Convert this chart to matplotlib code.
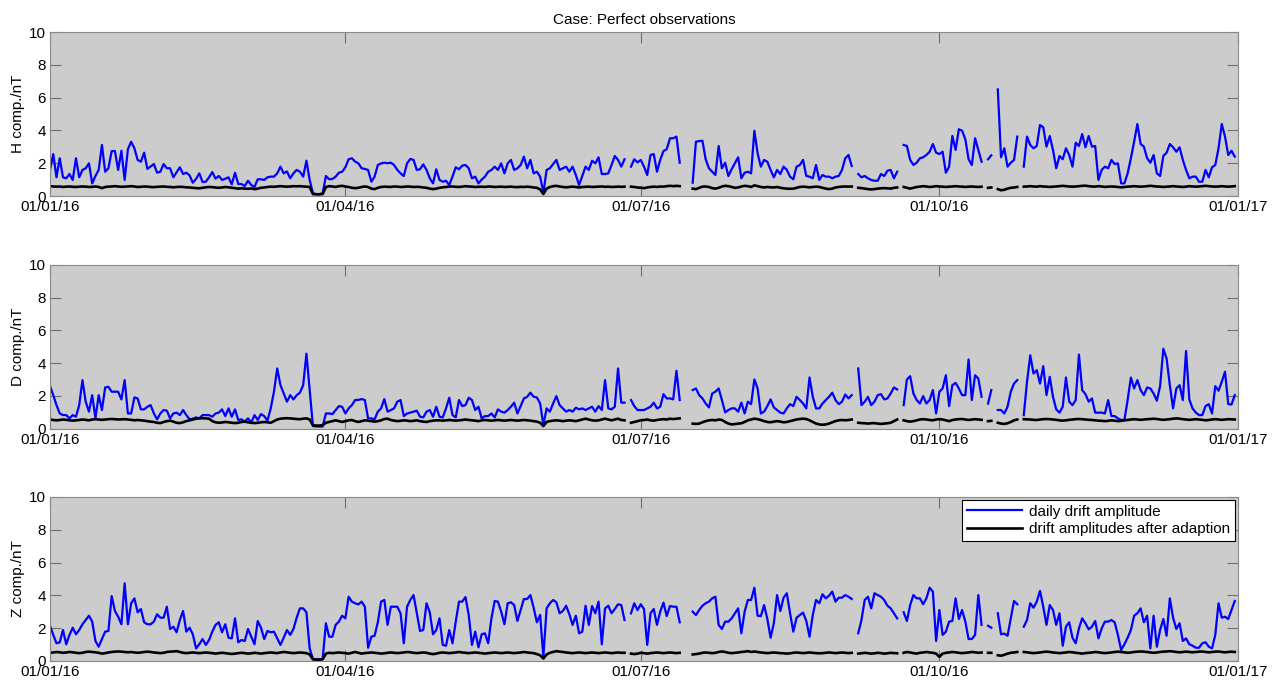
import numpy as np
import pandas as pd
import matplotlib
matplotlib.use("Agg")
import matplotlib.pyplot as plt
import matplotlib.dates as mdates

plt.rcParams['font.family'] = ['Liberation Sans', 'DejaVu Sans']

nan = float('nan')
dates = pd.date_range('2016-01-01', periods=366, freq='D')

# ---------------- H component ----------------
h_daily = [
    1.59,2.56,1.14,2.30,1.14,1.08,1.34,0.98,2.30,1.14,
    1.59,1.69,1.99,0.77,1.22,1.59,3.11,1.48,1.69,2.74,
    2.74,1.59,2.76,0.98,2.85,3.31,2.91,2.20,2.09,2.64,
    1.65,1.80,1.95,1.42,1.48,1.95,1.69,1.69,1.14,1.44,
    1.75,1.34,1.42,1.26,0.81,1.04,1.38,0.85,0.87,1.14,
    1.46,1.06,1.22,0.98,1.05,1.14,0.71,1.42,0.73,0.73,
    0.61,0.93,0.67,0.55,1.02,1.02,0.98,1.14,1.18,1.18,
    1.38,1.79,1.38,1.50,1.08,1.38,1.59,1.48,1.18,2.15,
    0.98,0.16,0.12,0.12,0.16,1.22,1.02,1.04,1.18,1.42,
    1.48,1.75,2.24,2.30,
    2.10,1.99,1.69,1.65,1.59,0.87,1.18,1.89,1.99,2.03,2.00,
    2.03,1.89,1.59,1.38,1.22,1.99,2.26,2.20,1.59,1.63,1.93,1.59,1.08,0.77,
    1.63,0.98,0.87,0.93,0.67,1.18,1.75,1.63,1.85,1.89,1.69,1.08,1.18,0.77,1.00,
    1.18,1.48,1.59,1.79,1.59,1.99,1.38,1.99,2.20,1.59,1.69,1.89,2.40,1.69,2.20,
    1.38,1.48,1.18,0.20,1.59,1.69,1.95,2.20,1.59,1.69,1.79,1.48,1.79,1.28,0.67,
    1.22,1.79,1.59,2.15,1.99,2.36,1.34,1.34,1.38,1.89,2.44,2.20,1.79,2.24,
    nan,
    1.79,2.24,2.05,2.20,1.79,1.28,2.50,2.56,1.48,2.20,2.74,2.85,3.52,3.52,3.62,2.03,
    nan, nan, nan,
    0.81,3.31,3.35,3.37,2.24,1.69,1.48,1.28,3.05,1.69,
    2.03,1.22,1.63,1.99,2.36,1.08,1.42,1.48,1.38,3.98,
    2.60,1.79,2.20,2.09,1.59,1.14,1.59,1.34,1.79,1.59,
    1.18,1.02,1.79,1.89,2.20,1.22,1.18,1.08,1.89,0.98,
    1.28,1.18,1.18,1.08,1.18,1.22,1.59,2.30,2.50,1.83,
    nan,
    1.34,1.14,1.22,1.08,0.98,0.93,0.93,1.34,1.22,1.54,1.59,1.08,1.48,
    nan,
    3.11,3.05,2.20,1.89,2.03,2.30,2.36,2.50,2.70,3.17,2.64,2.56,2.70,
    1.42,1.79,3.66,2.81,4.07,3.98,3.46,2.24,1.89,3.52,2.81,2.09,
    nan,
    2.24,2.48,
    nan,
    6.50,2.36,2.91,1.79,2.03,2.20,3.62,
    nan,
    1.79,3.62,3.11,2.91,3.05,4.33,4.19,3.01,3.66,2.81,
    1.69,2.44,2.24,2.91,2.50,1.79,3.25,3.05,3.78,2.97,
    3.66,3.01,3.05,0.98,1.59,1.79,1.69,2.20,1.95,1.99,
    0.77,0.77,1.38,2.30,3.31,4.39,3.17,3.01,2.30,2.03,
    2.50,1.38,1.22,2.44,2.64,3.17,2.97,2.70,2.97,2.20,
    1.59,1.08,1.18,1.18,0.87,0.87,1.59,1.14,1.75,1.89,
    2.91,4.39,3.62,2.50,2.76,2.40,
]

h_adapted = [
    0.60,0.58,0.57,0.58,0.55,0.57,0.58,0.56,0.55,0.57,
    0.58,0.57,0.55,0.56,0.58,0.55,0.48,0.55,0.57,0.58,
    0.60,0.58,0.56,0.57,0.58,0.60,0.58,0.55,0.56,0.58,
    0.57,0.55,0.54,0.56,0.57,0.58,0.56,0.55,0.53,0.55,
    0.56,0.55,0.53,0.52,0.50,0.48,0.47,0.50,0.53,0.55,
    0.54,0.52,0.50,0.52,0.55,0.53,0.50,0.48,0.45,0.47,
    0.45,0.44,0.46,0.42,0.45,0.50,0.52,0.55,0.57,0.56,
    0.58,0.60,0.58,0.57,0.58,0.60,0.59,0.60,0.58,0.57,
    0.55,0.12,0.10,0.10,0.12,0.55,0.60,0.58,0.55,0.60,
    0.62,0.58,0.55,0.50,0.48,0.50,0.55,0.58,0.55,0.45,
    0.42,0.50,0.55,0.57,0.56,0.55,0.58,0.57,0.55,0.56,
    0.58,0.57,0.55,0.56,0.55,0.52,0.50,0.45,0.42,0.45,
    0.50,0.53,0.55,0.57,0.58,0.56,0.55,0.57,0.60,0.58,
    0.57,0.55,0.56,0.57,0.55,0.58,0.57,0.55,0.56,0.57,
    0.55,0.56,0.57,0.55,0.54,0.56,0.55,0.57,0.55,0.52,
    0.50,0.40,0.12,0.45,0.55,0.60,0.62,0.58,0.55,0.53,
    0.55,0.57,0.55,0.52,0.55,0.56,0.57,0.55,0.56,0.57,
    0.58,0.56,0.57,0.55,0.56,0.57,0.56,0.57,
    nan,
    0.57,0.55,0.52,0.50,0.48,0.52,0.55,0.57,0.55,0.58,0.57,0.60,0.62,0.60,0.62,0.60,
    nan, nan, nan,
    0.45,0.42,0.50,0.57,0.58,0.55,0.48,0.45,0.50,0.58,
    0.62,0.60,0.55,0.50,0.52,0.58,0.62,0.60,0.55,0.65,
    0.60,0.55,0.52,0.55,0.53,0.52,0.55,0.50,0.47,0.45,
    0.44,0.45,0.50,0.55,0.57,0.55,0.53,0.55,0.57,0.55,
    0.50,0.45,0.42,0.45,0.52,0.55,0.57,0.58,0.57,0.58,
    nan,
    0.50,0.48,0.45,0.42,0.40,0.42,0.45,0.47,0.48,0.47,0.45,0.50,0.52,
    nan,
    0.55,0.50,0.45,0.50,0.55,0.57,0.60,0.58,0.55,0.57,
    0.60,0.58,0.57,0.55,0.57,0.58,0.60,0.58,0.57,0.55,
    0.57,0.58,0.56,0.55,0.57,
    nan,
    0.50,0.52,
    nan,
    0.42,0.35,0.38,0.45,0.50,0.52,0.55,
    nan,
    0.57,0.58,0.60,0.58,0.57,0.60,0.58,0.57,0.55,0.57,
    0.58,0.60,0.62,0.60,0.58,0.57,0.58,0.60,0.62,0.63,
    0.60,0.58,0.57,0.60,0.58,0.55,0.57,0.58,0.57,0.55,
    0.53,0.55,0.57,0.58,0.60,0.58,0.57,0.58,0.60,0.62,
    0.60,0.58,0.57,0.55,0.57,0.58,0.60,0.58,0.57,0.55,
    0.57,0.60,0.58,0.57,0.58,0.60,0.62,0.60,0.58,0.57,
    0.58,0.60,0.58,0.57,0.58,0.60,
]

# ---------------- D component ----------------
d_daily = [
    2.59,2.04,1.43,0.92,0.82,0.82,0.62,0.82,0.72,1.43,
    2.96,1.64,1.03,2.04,0.62,2.04,1.13,2.51,2.55,2.25,
    2.25,2.25,1.78,2.96,0.92,0.92,1.90,1.84,1.17,1.17,
    1.33,1.43,0.92,0.56,0.92,1.13,1.09,0.62,0.92,0.97,
    0.82,1.13,0.82,0.56,0.60,0.68,0.62,0.82,0.82,0.82,
    0.72,0.92,0.97,1.17,0.76,1.23,0.72,1.17,0.52,0.56,
    0.42,0.62,0.36,0.82,0.52,0.88,0.76,0.48,1.23,2.25,
    3.67,2.65,2.14,1.64,2.04,1.78,2.04,2.19,2.65,4.58,
    2.35,0.15,0.12,0.12,0.12,0.92,0.92,0.88,1.13,1.37,
    1.33,0.92,1.23,1.43,1.74,
    1.75,
    1.80,1.74,0.62,0.62,0.56,1.03,1.23,1.80,1.03,1.13,
    1.23,1.64,1.74,0.76,0.92,0.97,1.03,1.09,0.72,0.68,
    1.03,1.13,0.72,1.33,0.72,0.68,1.23,1.88,0.82,0.68,
    1.74,1.37,1.43,1.88,1.74,1.13,1.33,0.62,0.76,0.76,
    0.92,0.68,1.17,1.03,0.97,1.13,1.33,1.58,0.92,1.37,
    1.84,1.94,2.19,1.94,1.90,1.53,0.21,1.23,1.03,1.53,
    1.98,1.43,1.23,1.03,1.13,1.03,1.27,1.17,1.23,1.13,
    1.23,1.33,1.03,1.37,1.13,2.96,1.23,1.17,1.33,3.67,
    1.58,1.58,
    nan,
    1.74,1.37,1.13,1.13,1.13,1.23,1.33,1.58,1.23,1.33,2.10,1.84,1.84,1.78,3.53,1.74,
    nan, nan, nan,
    2.35,2.45,2.04,1.84,1.53,1.29,2.14,2.25,2.45,1.74,
    0.99,1.13,1.23,1.23,1.03,1.58,0.92,1.64,1.49,3.00,
    2.45,0.92,1.03,1.37,1.78,1.29,1.13,0.97,0.92,1.23,
    1.49,1.37,1.94,1.74,1.53,1.23,3.12,1.94,1.23,1.23,
    1.53,1.74,1.94,2.19,1.74,1.49,1.64,2.08,1.84,2.04,
    nan,
    3.67,1.43,1.64,1.94,1.43,1.64,2.04,2.10,1.78,1.84,2.14,2.51,2.39,
    nan,
    1.43,3.00,3.20,2.14,1.74,1.53,1.98,1.53,1.74,2.35,0.92,2.25,2.45,
    3.26,1.37,2.65,2.79,2.45,2.04,2.04,4.22,1.74,3.26,3.05,1.94,
    nan,
    1.53,2.35,
    nan,
    1.13,1.13,0.92,1.33,2.25,2.75,2.96,
    nan,
    0.82,2.86,4.48,3.36,3.57,2.75,3.81,2.04,3.16,1.94,
    1.17,0.97,1.33,3.12,1.64,1.43,1.74,4.52,2.35,2.10,
    1.64,1.84,0.97,0.97,0.97,0.92,1.74,0.76,0.76,0.62,
    0.52,0.52,1.74,3.12,2.45,2.96,2.35,2.04,2.51,2.45,
    2.14,1.70,2.59,4.88,4.28,2.65,1.23,2.45,2.65,1.74,
    4.74,1.78,1.23,0.97,0.82,0.82,1.37,1.49,0.92,2.59,
    2.31,2.86,3.47,1.49,1.47,2.04,
]

d_adapted = [
    0.55,0.52,0.50,0.52,0.55,0.53,0.50,0.48,0.50,0.52,
    0.55,0.53,0.50,0.55,0.57,0.55,0.53,0.55,0.57,0.58,
    0.57,0.55,0.56,0.57,0.55,0.53,0.50,0.52,0.50,0.48,
    0.45,0.42,0.40,0.35,0.33,0.40,0.45,0.48,0.42,0.35,
    0.33,0.38,0.45,0.50,0.55,0.60,0.62,0.63,0.62,0.60,
    0.45,0.38,0.35,0.37,0.40,0.38,0.35,0.33,0.35,0.40,
    0.42,0.38,0.35,0.33,0.35,0.38,0.40,0.38,0.35,0.45,
    0.55,0.60,0.62,0.63,0.62,0.60,0.58,0.57,0.60,0.62,
    0.55,0.20,0.18,0.18,0.20,0.35,0.40,0.45,0.50,0.45,
    0.40,0.45,0.50,0.52,0.45,0.40,0.45,0.50,0.48,0.45,
    0.42,0.45,0.50,0.58,0.60,0.52,0.48,0.45,0.47,0.50,
    0.48,0.45,0.47,0.50,0.45,0.42,0.40,0.45,0.48,0.50,
    0.50,0.48,0.50,0.52,0.50,0.48,0.50,0.52,0.55,0.52,
    0.50,0.48,0.45,0.50,0.52,0.50,0.48,0.50,0.52,0.50,
    0.48,0.50,0.52,0.50,0.48,0.50,0.52,0.50,0.48,0.45,
    0.42,0.35,0.15,0.40,0.45,0.48,0.50,0.48,0.45,0.48,
    0.50,0.48,0.45,0.50,0.55,0.60,0.55,0.50,0.48,0.50,
    0.55,0.60,0.55,0.50,0.55,0.60,0.52,0.50,
    nan,
    0.35,0.40,0.45,0.50,0.52,0.55,0.50,0.48,0.52,0.55,0.57,0.55,0.60,0.58,0.60,0.62,
    nan, nan, nan,
    0.30,0.28,0.30,0.38,0.45,0.50,0.52,0.50,0.55,0.52,
    0.40,0.30,0.25,0.27,0.30,0.32,0.40,0.50,0.55,0.60,
    0.57,0.52,0.45,0.40,0.38,0.42,0.45,0.42,0.38,0.40,
    0.45,0.50,0.55,0.58,0.60,0.58,0.50,0.40,0.30,0.25,
    0.23,0.25,0.30,0.38,0.45,0.50,0.52,0.50,0.52,0.55,
    nan,
    0.35,0.33,0.32,0.30,0.32,0.33,0.30,0.28,0.30,0.32,0.35,0.45,0.55,
    nan,
    0.50,0.45,0.42,0.45,0.50,0.55,0.57,0.55,0.52,0.50,
    0.55,0.57,0.55,0.50,0.45,0.52,0.55,0.57,0.58,0.55,
    0.52,0.55,0.57,0.55,0.53,
    nan,
    0.45,0.47,
    nan,
    0.35,0.30,0.28,0.32,0.40,0.50,0.55,
    nan,
    0.57,0.56,0.55,0.53,0.52,0.55,0.57,0.58,0.57,0.55,
    0.53,0.50,0.48,0.50,0.53,0.55,0.57,0.58,0.57,0.55,
    0.53,0.52,0.50,0.48,0.47,0.45,0.47,0.50,0.48,0.45,
    0.47,0.50,0.52,0.55,0.57,0.55,0.53,0.55,0.57,0.58,
    0.60,0.58,0.55,0.53,0.55,0.57,0.60,0.62,0.60,0.57,
    0.55,0.53,0.55,0.57,0.55,0.53,0.50,0.52,0.55,0.57,
    0.55,0.53,0.55,0.57,0.56,0.55,
]

# ---------------- Z component ----------------
z_daily = [
    2.15,1.59,1.08,1.14,1.89,1.02,1.59,2.03,1.63,1.89,
    2.24,2.50,2.76,2.40,1.22,0.87,1.34,1.79,1.83,3.96,
    3.05,2.70,2.24,4.74,2.24,3.52,3.82,2.97,3.17,2.36,
    2.24,2.24,2.40,2.85,2.64,2.64,3.31,1.95,2.09,1.75,
    2.50,3.05,1.79,2.03,1.63,0.77,1.02,1.34,0.98,1.28,
    1.79,2.20,2.36,1.75,2.24,1.42,1.38,2.60,1.14,1.28,
    1.22,1.95,1.48,1.02,2.44,2.03,1.34,1.83,1.75,1.79,
    1.38,0.98,1.42,1.89,1.59,1.95,2.64,3.21,3.21,2.97,
    0.77,0.12,0.10,0.10,0.12,2.30,1.48,1.48,2.20,2.40,
    2.76,2.60,3.92,3.62,3.52,
    3.45,
    3.62,3.31,0.81,1.48,1.54,2.36,3.62,3.72,2.20,3.31,
    3.31,3.31,2.91,1.08,3.31,3.72,4.02,2.91,1.83,1.89,
    3.52,2.97,1.63,1.89,2.60,0.98,0.93,1.89,1.08,2.40,
    3.62,3.62,3.90,2.81,0.98,1.79,0.83,1.63,1.69,1.08,
    2.60,3.66,3.62,3.01,2.24,3.52,3.58,3.41,2.44,3.11,
    3.78,3.78,4.02,3.25,2.36,2.81,0.26,3.21,3.52,3.72,
    3.58,2.91,3.05,3.37,2.85,2.20,2.76,1.69,1.79,3.37,
    2.20,3.35,2.91,3.62,1.02,3.21,3.37,2.91,3.17,3.46,
    3.41,2.50,
    nan,
    2.91,3.52,3.10,3.46,3.17,0.98,2.91,3.17,2.20,3.01,3.56,2.74,3.35,3.31,3.31,2.36,
    nan, nan, nan,
    3.01,2.80,3.11,3.37,3.52,3.62,3.82,3.92,2.20,1.95,
    2.40,2.40,2.60,2.91,3.21,1.69,3.01,3.72,3.72,4.47,
    2.76,2.74,3.41,2.56,1.42,2.30,4.02,3.05,3.86,4.13,
    2.91,1.79,2.64,2.80,2.95,2.44,1.48,2.80,3.72,3.52,
    4.07,3.82,3.98,4.23,3.62,3.86,3.86,4.02,3.92,3.78,
    nan,
    1.69,2.50,3.72,3.92,3.21,4.13,4.02,3.92,3.72,3.37,3.21,2.91,2.60,
    nan,
    2.97,2.44,3.41,4.02,3.82,3.82,3.46,3.82,4.47,4.23,1.22,3.11,1.59,
    1.79,2.40,2.44,3.82,2.56,3.11,2.40,1.34,1.34,1.59,4.02,2.20,
    nan,
    2.15,2.03,
    nan,
    2.91,1.63,1.67,1.54,2.60,3.66,3.46,
    nan,
    2.09,2.50,3.52,3.25,3.62,4.27,3.31,2.20,3.41,3.11,
    2.20,2.91,0.93,2.09,2.36,1.42,1.08,1.99,2.60,2.30,
    1.93,2.09,2.44,1.38,1.99,2.40,2.40,2.50,2.36,1.59,
    0.67,1.02,1.42,1.89,2.76,2.91,3.21,2.36,2.76,0.77,
    2.76,0.87,1.89,2.56,1.54,3.82,2.64,1.95,2.30,1.22,
    1.38,1.02,0.93,0.81,0.81,1.08,1.14,0.87,0.77,1.59,
    3.52,2.64,2.70,2.56,3.11,3.66,
]

z_adapted = [
    0.50,0.52,0.55,0.53,0.50,0.52,0.55,0.53,0.50,0.48,
    0.50,0.55,0.57,0.55,0.53,0.50,0.45,0.48,0.52,0.55,
    0.57,0.58,0.57,0.55,0.53,0.55,0.52,0.50,0.52,0.55,
    0.57,0.55,0.52,0.50,0.48,0.50,0.55,0.57,0.58,0.60,
    0.55,0.50,0.48,0.50,0.52,0.50,0.48,0.50,0.52,0.50,
    0.48,0.45,0.48,0.50,0.48,0.45,0.43,0.45,0.48,0.50,
    0.48,0.45,0.47,0.50,0.48,0.45,0.48,0.50,0.52,0.50,
    0.48,0.52,0.55,0.53,0.50,0.48,0.50,0.52,0.50,0.48,
    0.40,0.10,0.08,0.08,0.10,0.45,0.50,0.48,0.50,0.52,
    0.50,0.48,0.45,0.50,0.55,0.50,0.45,0.48,0.50,0.52,
    0.50,0.48,0.45,0.47,0.50,0.52,0.50,0.48,0.50,0.52,
    0.55,0.53,0.50,0.48,0.50,0.52,0.50,0.45,0.42,0.45,
    0.50,0.52,0.50,0.48,0.50,0.52,0.55,0.52,0.50,0.48,
    0.50,0.52,0.50,0.48,0.45,0.48,0.50,0.52,0.50,0.48,
    0.50,0.52,0.50,0.48,0.50,0.52,0.55,0.52,0.50,0.48,
    0.42,0.35,0.15,0.40,0.50,0.55,0.60,0.57,0.55,0.52,
    0.50,0.48,0.50,0.52,0.50,0.48,0.50,0.52,0.50,0.48,
    0.50,0.52,0.50,0.48,0.50,0.52,0.50,0.50,
    nan,
    0.45,0.42,0.45,0.50,0.48,0.45,0.48,0.50,0.52,0.50,0.48,0.50,0.52,0.50,0.48,0.50,
    nan, nan, nan,
    0.40,0.42,0.45,0.50,0.52,0.50,0.48,0.50,0.55,0.58,
    0.55,0.50,0.48,0.50,0.52,0.55,0.57,0.60,0.55,0.58,
    0.55,0.52,0.50,0.48,0.50,0.52,0.50,0.48,0.47,0.45,
    0.47,0.50,0.52,0.50,0.48,0.50,0.52,0.50,0.48,0.47,
    0.48,0.50,0.52,0.50,0.48,0.50,0.52,0.50,0.48,0.50,
    nan,
    0.45,0.47,0.50,0.48,0.45,0.47,0.50,0.48,0.45,0.47,0.50,0.48,0.47,
    nan,
    0.50,0.55,0.52,0.48,0.45,0.50,0.52,0.55,0.52,0.50,0.45,0.25,0.45,
    0.50,0.52,0.55,0.53,0.50,0.48,0.50,0.52,0.55,0.53,0.50,0.52,
    nan,
    0.50,0.50,
    nan,
    0.35,0.32,0.38,0.45,0.50,0.52,0.55,
    nan,
    0.55,0.53,0.50,0.48,0.50,0.52,0.55,0.57,0.55,0.52,
    0.50,0.48,0.50,0.52,0.55,0.53,0.50,0.48,0.45,0.48,
    0.50,0.52,0.55,0.53,0.50,0.48,0.50,0.52,0.55,0.57,
    0.55,0.53,0.50,0.52,0.55,0.57,0.58,0.57,0.55,0.52,
    0.50,0.52,0.55,0.57,0.58,0.60,0.58,0.55,0.53,0.55,
    0.57,0.55,0.53,0.55,0.57,0.58,0.55,0.53,0.55,0.57,
    0.58,0.55,0.53,0.55,0.57,0.55,
]

components = ['H comp./nT', 'D comp./nT', 'Z comp./nT']
daily_series = [h_daily, d_daily, z_daily]
adapted_series = [h_adapted, d_adapted, z_adapted]
tick_dates = ['2016-01-01', '2016-04-01', '2016-07-01', '2016-10-01', '2017-01-01']
legend_labels = ['daily drift amplitude', 'drift amplitudes after adaption']
title_text = 'Case: Perfect observations'

for name, s in zip(['h_daily', 'h_adapted', 'd_daily', 'd_adapted', 'z_daily', 'z_adapted'],
                   [h_daily, h_adapted, d_daily, d_adapted, z_daily, z_adapted]):
    assert len(s) == 366, (name, len(s))

W, H = 1283, 680
fig = plt.figure(figsize=(W / 100, H / 100), dpi=100)
fig.patch.set_facecolor('white')

left_px, right_px = 50, 1238
panel_px = [(32, 196), (265, 428.5), (497, 661)]

axes = []
for i, (top, bot) in enumerate(panel_px):
    ax = fig.add_axes([left_px / W, 1 - bot / H, (right_px - left_px) / W, (bot - top) / H])
    ax.set_facecolor('#cccccc')
    ax.plot(dates, np.array(daily_series[i], dtype=float), color='#0000ff', lw=1.6,
            label=legend_labels[0])
    ax.plot(dates, np.array(adapted_series[i], dtype=float), color='black', lw=1.9,
            label=legend_labels[1])
    ax.set_xlim(pd.Timestamp('2016-01-01'), pd.Timestamp('2017-01-01'))
    ax.set_ylim(0, 10)
    ax.set_yticks(np.arange(0, 11, 2))
    ax.set_xticks(pd.to_datetime(tick_dates))
    ax.xaxis.set_major_formatter(mdates.DateFormatter('%d/%m/%y'))
    ax.tick_params(direction='in', length=8, width=0.8, color='#707070',
                   top=True, right=True, labelsize=11, labelcolor='black')
    ax.tick_params(axis='x', pad=3)
    ax.tick_params(axis='y', pad=3)
    for sp in ax.spines.values():
        sp.set_color('#8a8a8a')
        sp.set_linewidth(0.8)
    ax.set_ylabel(components[i], fontsize=11, labelpad=3)
    axes.append(ax)

axes[0].set_title(title_text, fontsize=11, pad=6)

leg = axes[2].legend(loc='upper right', fontsize=11, frameon=True, fancybox=False,
                     edgecolor='black', facecolor='white', framealpha=1.0,
                     borderaxespad=0.2, handlelength=3.6, handletextpad=0.5,
                     borderpad=0.3, labelspacing=0.25)
leg.get_frame().set_linewidth(0.8)

fig.savefig('out.png', dpi=100)
